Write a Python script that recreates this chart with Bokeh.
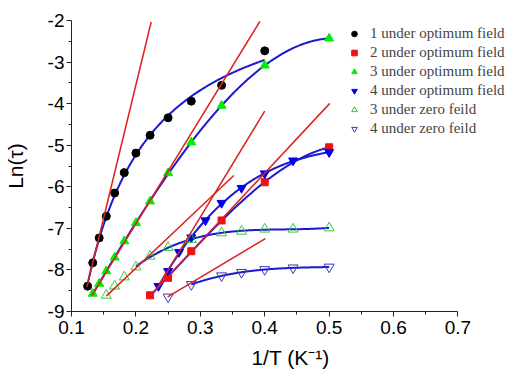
import numpy as np
from bokeh.plotting import figure
from bokeh.models import FixedTicker, Legend, LegendItem, Range1d
from bokeh.embed import file_html
from bokeh.resources import INLINE

# ---- data (1/T, ln tau) ----
x1 = [0.125, 0.133, 0.143, 0.154, 0.167, 0.182, 0.200, 0.222, 0.250, 0.286, 0.333, 0.400]
y1 = [-8.39, -7.83, -7.23, -6.71, -6.15, -5.66, -5.19, -4.76, -4.34, -3.94, -3.56, -2.73]
x2 = [0.222, 0.250, 0.286, 0.333, 0.400, 0.500]
y2 = [-8.61, -8.19, -7.55, -6.81, -5.89, -5.05]
x3 = [0.133, 0.143, 0.154, 0.167, 0.182, 0.200, 0.222, 0.250, 0.286, 0.333, 0.400, 0.500]
y3 = [-8.57, -8.33, -8.03, -7.70, -7.31, -6.87, -6.35, -5.67, -4.93, -4.05, -3.08, -2.43]
x4 = [0.235, 0.250, 0.267, 0.286, 0.308, 0.333, 0.364, 0.400, 0.444, 0.500]
y4 = [-8.39, -8.03, -7.57, -7.22, -6.81, -6.39, -6.03, -5.68, -5.37, -5.17]
x3z = [0.154, 0.167, 0.182, 0.200, 0.222, 0.250, 0.286, 0.333, 0.364, 0.400, 0.444, 0.500]
y3z = [-8.61, -8.39, -8.17, -7.93, -7.67, -7.46, -7.27, -7.11, -7.07, -7.02, -7.02, -6.99]
x4z = [0.250, 0.286, 0.333, 0.364, 0.400, 0.444, 0.500]
y4z = [-8.65, -8.35, -8.14, -8.06, -7.99, -7.95, -7.93]

labels = ["1 under optimum field", "2 under optimum field", "3 under optimum field",
          "4 under optimum field", "3 under zero feild", "4 under zero feild"]

# Arrhenius (red) fits: slope (Ueff), intercept (ln tau0), x-range
arr_slope = [63.9, 25.27, 14.65, 25.5, 16.6, 9.25]
arr_icpt = [-16.33, -11.94, -10.886, -14.38, -12.31, -10.956]
arr_x0 = [0.124, 0.1317, 0.154, 0.233, 0.2227, 0.2493]
arr_x1 = [0.2237, 0.3925, 0.352, 0.400, 0.501, 0.401]

# blue fitted curves: start, polynomial degree, fit against T (=1/x) or x
fit_start = [0.125, 0.222, 0.133, 0.235, 0.200, 0.286]
fit_deg = [2, 3, 3, 3, 3, 3]
fit_in_T = [True, False, False, False, False, False]

x_ticks = [0.1, 0.2, 0.3, 0.4, 0.5, 0.6, 0.7]
y_ticks = [-9, -8, -7, -6, -5, -4, -3, -2]

p = figure(width=509, height=373, output_backend="svg", toolbar_location=None,
           x_range=Range1d(0.1, 0.780), y_range=Range1d(-9, -2),
           min_border_left=66, min_border_right=0, min_border_top=20, min_border_bottom=62)
p.outline_line_color = None
p.grid.visible = False
p.background_fill_color = "white"

series = [(x1, y1), (x2, y2), (x3, y3), (x4, y4), (x3z, y3z), (x4z, y4z)]

# blue fitted curves
for (xs, ys), xs0, deg, inT in zip(series, fit_start, fit_deg, fit_in_T):
    xa = np.array(xs); ya = np.array(ys)
    sel = xa >= xs0 - 1e-9
    xx = np.linspace(xs0, xa.max(), 200)
    if inT:
        c = np.polyfit(1.0 / xa[sel], ya[sel], deg)
        yy = np.polyval(c, 1.0 / xx)
    else:
        c = np.polyfit(xa[sel], ya[sel], deg)
        yy = np.polyval(c, xx)
    p.line(xx, yy, line_color="#1a1ad0", line_width=2)

# markers
r1 = p.scatter(x1, y1, marker="circle", size=8, fill_color="black", line_color="black")
r2 = p.scatter(x2, y2, marker="square", size=7, fill_color="#ee1111", line_color="#ee1111")
r3 = p.scatter(x3, y3, marker="triangle", size=9, fill_color="#00ee00", line_color="#00ee00")
r4 = p.scatter(x4, y4, marker="inverted_triangle", size=9, fill_color="#0000ee", line_color="#0000ee")
r5 = p.scatter(x3z, y3z, marker="triangle", size=10, fill_alpha=0, line_color="#33cc33", line_width=1)
r6 = p.scatter(x4z, y4z, marker="inverted_triangle", size=10, fill_alpha=0, line_color="#3a3ab8", line_width=1)

# red Arrhenius lines
for s, b, a0, a1 in zip(arr_slope, arr_icpt, arr_x0, arr_x1):
    xx = np.array([a0, a1])
    p.line(xx, b + s * xx, line_color="#dd2020", line_width=1.5)

# axes
p.xaxis.bounds = (0.1, 0.7)
p.xaxis.ticker = FixedTicker(ticks=x_ticks, minor_ticks=[0.15, 0.25, 0.35, 0.45, 0.55, 0.65])
p.yaxis.ticker = FixedTicker(ticks=y_ticks, minor_ticks=[-8.5, -7.5, -6.5, -5.5, -4.5, -3.5, -2.5])
p.yaxis.major_label_overrides = {v: "%d" % v for v in y_ticks}
for ax in (p.xaxis[0], p.yaxis[0]):
    ax.axis_line_color = "#222222"
    ax.major_tick_line_color = "#222222"
    ax.minor_tick_line_color = "#222222"
    ax.major_tick_out = 5
    ax.major_tick_in = 0
    ax.minor_tick_out = 3
    ax.minor_tick_in = 0
    ax.major_label_text_font = "Liberation Sans"
    ax.major_label_text_font_size = "19px"
    ax.major_label_text_color = "black"
    ax.axis_label_text_font = "Liberation Sans"
    ax.axis_label_text_font_size = "21px"
    ax.axis_label_text_font_style = "normal"
    ax.axis_label_text_color = "black"
p.xaxis.major_label_standoff = 4
p.yaxis.major_label_standoff = 2
p.xaxis.axis_label = "1/T (K\u207b\u00b9)"
p.yaxis.axis_label = "Ln(\u03c4)"
p.xaxis.axis_label_standoff = 9
p.yaxis.axis_label_standoff = 18

legend = Legend(items=[LegendItem(label=l, renderers=[r]) for l, r in
                       zip(labels, [r1, r2, r3, r4, r5, r6])],
                location=(276, 173))
legend.border_line_alpha = 0
legend.background_fill_alpha = 0
legend.label_text_font = "Liberation Serif"
legend.label_text_font_size = "15px"
legend.glyph_width = 14
legend.glyph_height = 19
legend.label_height = 19
legend.spacing = 0
legend.padding = 0
legend.margin = 0
legend.label_standoff = 9
p.add_layout(legend)

open("out.html", "w").write(file_html(p, INLINE))
